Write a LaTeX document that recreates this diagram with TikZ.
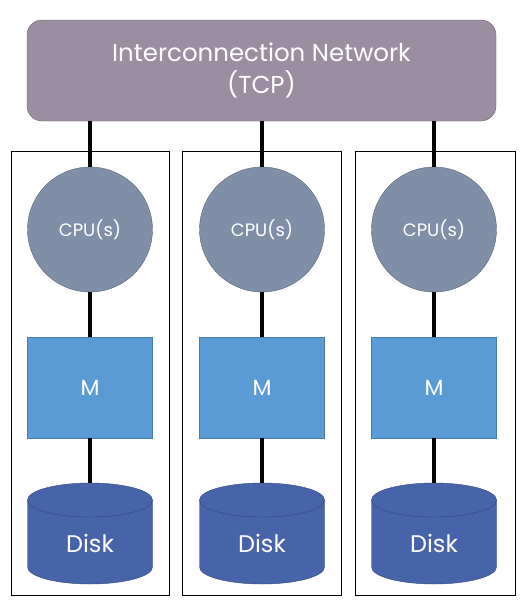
\documentclass[tikz,border=0pt]{standalone}
\usepackage{fontspec}
\setmainfont{Poppins}
\usetikzlibrary{positioning}

\definecolor{netcol}{HTML}{9B8EA0}
\definecolor{cpucol}{HTML}{7F8FA8}
\definecolor{memcol}{HTML}{5B9BD5}
\definecolor{diskcol}{HTML}{4764AA}

\tikzset{
  netbox/.style={draw=netcol!70!black, fill=netcol, rounded corners=15pt,
    minimum width=469pt, minimum height=101pt, text=white, align=center,
    font=\fontsize{24.5}{32}\selectfont},
  cpubox/.style={circle, draw=cpucol!70!black, fill=cpucol, minimum size=125pt,
    inner sep=0pt, text=white, font=\fontsize{18}{20}\selectfont},
  membox/.style={draw=memcol!80!black, fill=memcol, minimum width=125pt,
    minimum height=101pt, inner sep=0pt, text=white, font=\fontsize{22}{26}\selectfont},
  diskbody/.style={draw=diskcol!70!black, fill=diskcol},
  disktext/.style={text=white, font=\fontsize{24}{28}\selectfont},
  panel/.style={draw=black, line width=0.8pt},
  wire/.style={line width=3.6pt}
}

\begin{document}
\begin{tikzpicture}[x=1pt, y=-1pt]
  \useasboundingbox (0,0) rectangle (532,603);

  % --- network ---
  \node[netbox] (net) at (261.5,70.5) {Interconnection Network\\(TCP)};

  % --- three nodes ---
  \foreach \i/\x/\l/\r in {1/90/11/169, 2/262/182/341, 3/434/355/515} {
    \draw[panel] (\l,151) rectangle (\r,595);
    \node[cpubox] (cpu\i) at (\x,229.5) {CPU(s)};
    \node[membox] (mem\i) at (\x,387.5) {M};
    % disk as a cylinder
    \draw[diskbody] (\x-62.5,500) -- (\x-62.5,567)
      arc[start angle=180, end angle=0, x radius=62.5, y radius=17]
      -- (\x+62.5,500) -- cycle;
    \draw[diskbody] (\x,500) ellipse [x radius=62.5, y radius=17];
    \coordinate (disk\i) at (\x,483);
    \node[disktext] (dlbl\i) at (\x,543) {Disk};
    \coordinate (top\i) at (\x,121);
    \draw[wire] (top\i) -- (cpu\i.north);
    \draw[wire] (cpu\i.south) -- (mem\i.north);
    \draw[wire] (mem\i.south) -- (disk\i);
  }

\end{tikzpicture}
\end{document}
